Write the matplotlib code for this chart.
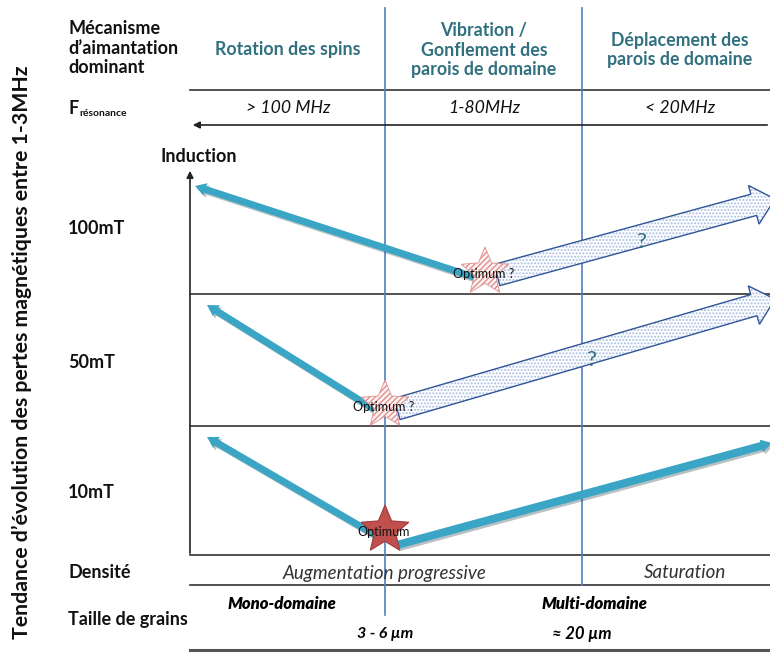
import numpy as np
import matplotlib as mpl
mpl.use("Agg")
import matplotlib.pyplot as plt
from matplotlib.patches import FancyArrow, Polygon
import matplotlib.patheffects as pe

plt.rcParams['font.family'] = ['Lato', 'DejaVu Sans']

# --- contenu du schema ---
mecanismes = ["Rotation des spins",
              "Vibration /\nGonflement des\nparois de domaine",
              "Déplacement des\nparois de domaine"]
frequences = ["> 100 MHz", "1-80MHz", "< 20MHz"]
inductions = ["100mT", "50mT", "10mT"]
densite = ["Augmentation progressive", "Saturation"]
domaines = ["Mono-domaine", "Multi-domaine"]
tailles = ["3 - 6 µm", "≈ 20 µm"]
optimum_labels = ["Optimum ?", "Optimum ?", "Optimum"]

# tendances (coordonnees schema, px) : depart gauche, optimum, fin droite
left_tip = [(195, 186), (207, 305), (207, 437)]
optimum = [(485, 272), (385, 405), (385, 530)]
right_tip = [(775, 210), (775, 310), (772, 443)]
right_start = [(497, 286), (397, 420), (397, 545)]
certain = [False, False, True]   # False -> fleche pointillee "?"

TEAL = '#3aa5c5'
HEAD = '#31707f'
BLUE = '#4f81bd'

fig = plt.figure(figsize=(7.7, 6.55), dpi=100)
ax = fig.add_axes([0, 0, 1, 1])
ax.set_xlim(0, 770)
ax.set_ylim(655, 0)
ax.axis('off')

# lignes du tableau
for y in [90, 294, 426, 555, 585]:
    ax.plot([190, 770], [y, y], color='#333333', lw=1.2)
ax.plot([190, 770], [650, 650], color='#555555', lw=2.2)
ax.annotate('', xy=(190, 125), xytext=(770, 125),
            arrowprops=dict(arrowstyle='-|>', color='#222222', lw=1.2, mutation_scale=10))
ax.annotate('', xy=(190, 168), xytext=(190, 556),
            arrowprops=dict(arrowstyle='-|>', color='#222222', lw=1.2, mutation_scale=10))
ax.plot([385, 385], [8, 615], color=BLUE, lw=1.2)
ax.plot([582, 582], [8, 585], color=BLUE, lw=1.2)

bold = dict(fontsize=13, fontweight='bold', color='#111111', va='center')
ax.text(68, 48, "Mécanisme\nd’aimantation\ndominant", linespacing=1.2, **bold)
ax.text(68, 108, "F", **bold)
ax.text(79, 113, "résonance", fontsize=7.5, fontweight='bold', color='#111111', va='center')
ax.text(160, 157, "Induction", **bold)
for lab, y in zip(inductions, [228, 363, 492]):
    ax.text(68, y, lab, **bold)
ax.text(68, 573, "Densité", **bold)
ax.text(68, 620, "Taille de grains", **bold)
ax.text(22, 352, "Tendance d’évolution des pertes magnétiques entre 1-3MHz",
        rotation=90, ha='center', va='center', fontsize=15.3, fontweight='bold', color='#111111')

col_x = [288, 484, 680]
for x, m, f in zip(col_x, mecanismes, frequences):
    ax.text(x, 50, m, ha='center', va='center', fontsize=12.8, fontweight='bold',
            color=HEAD, linespacing=1.15)
    ax.text(x, 108, f, ha='center', va='center', fontsize=12.7, style='italic', color='#111111')

ax.text(385, 573, densite[0], ha='center', va='center', fontsize=13.5, style='italic', color='#333333')
ax.text(685, 573, densite[1], ha='center', va='center', fontsize=13.5, style='italic', color='#333333')
ax.text(282, 604, domaines[0], ha='center', va='center', fontsize=12, style='italic', fontweight='heavy')
ax.text(595, 604, domaines[1], ha='center', va='center', fontsize=12, style='italic', fontweight='heavy')
ax.text(385, 634, tailles[0], ha='center', va='center', fontsize=11.5, style='italic', fontweight='bold')
ax.text(582, 634, tailles[1], ha='center', va='center', fontsize=12, style='italic', fontweight='bold')


def star(cx, cy, r):
    ang = np.pi / 2 + np.arange(10) * np.pi / 5
    rad = np.where(np.arange(10) % 2 == 0, r, r * 0.45)
    return np.column_stack([cx + rad * np.cos(ang), cy - rad * np.sin(ang)])


shadow = [pe.SimplePatchShadow(offset=(1.5, -1.5), alpha=0.3), pe.Normal()]
for i in range(3):
    ox, oy = optimum[i]
    lx, ly = left_tip[i]
    a = FancyArrow(ox - 8, oy + 6, lx - ox + 8, ly - oy - 6, width=7, head_width=13,
                   head_length=11, length_includes_head=True, color=TEAL, lw=0, zorder=3)
    a.set_path_effects(shadow)
    ax.add_patch(a)

    sx, sy = right_start[i]
    rx, ry = right_tip[i]
    if certain[i]:
        a = FancyArrow(sx, sy, rx - sx, ry - sy, width=8, head_width=13, head_length=11,
                       length_includes_head=True, color=TEAL, lw=0, zorder=3)
        a.set_path_effects(shadow)
        ax.add_patch(a)
    else:
        kw = dict(width=22, head_width=40, head_length=22, length_includes_head=True, zorder=3)
        ax.add_patch(FancyArrow(sx, sy - 11, rx - sx, ry - sy, facecolor='white',
                                edgecolor='#a9bfe2', hatch='.....', lw=0, **kw))
        ax.add_patch(FancyArrow(sx, sy - 11, rx - sx, ry - sy, facecolor='none',
                                edgecolor='#2f5597', lw=1.0, **kw))
        mx, my = (sx + rx) / 2, (sy - 11 + ry) / 2
        ax.text(mx + 5, my, "?", ha='center', va='center', fontsize=16, color=HEAD, zorder=5)

    if certain[i]:
        ax.add_patch(Polygon(star(ox, oy, 25), closed=True, facecolor='#c0504d',
                             edgecolor='#a03a38', lw=0.8, zorder=4))
    else:
        ax.add_patch(Polygon(star(ox, oy, 25), closed=True, facecolor='#fdf3f3',
                             edgecolor='#e0908e', hatch='//////', lw=0.6, zorder=4))
    ax.text(ox - 1, oy + 2, optimum_labels[i], ha='center', va='center', fontsize=9,
            color='#111111', zorder=5)

fig.savefig("out.png", dpi=100)
